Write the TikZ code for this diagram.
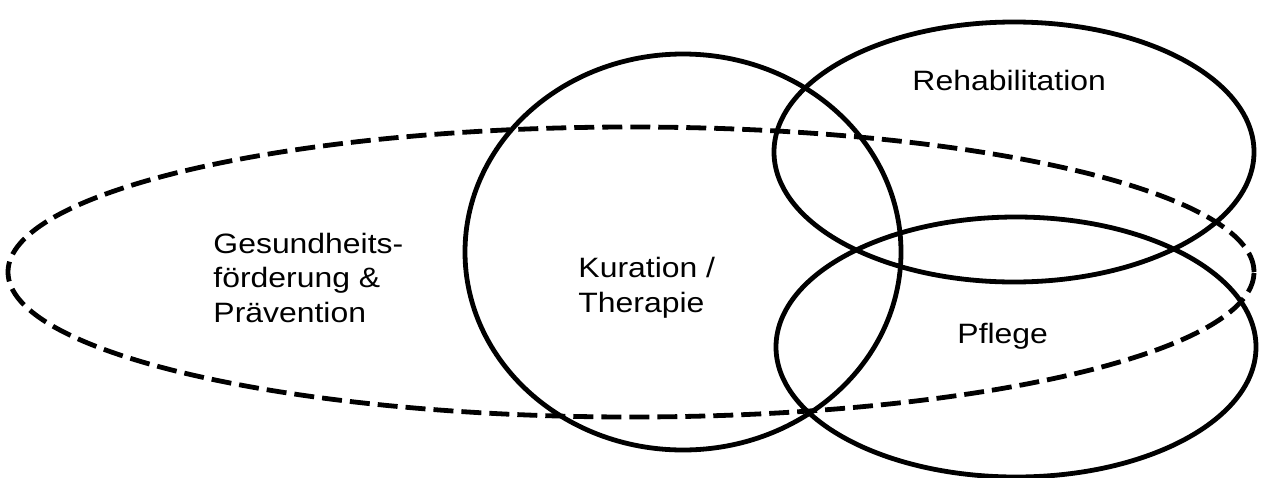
\documentclass[tikz,border=0pt]{standalone}
\usepackage{fontspec}
\setmainfont{Liberation Sans}
\usepackage{tikz}
\usetikzlibrary{positioning}

\begin{document}
\begin{tikzpicture}[
  x=0.5pt, y=-0.5pt,
  area/.style={draw, line width=2.4pt},
  outer/.style={area, dash pattern=on 10pt off 4pt},
  txt/.style={font=\fontsize{14}{17.25}\selectfont, inner sep=0pt,
    xscale=1.14, align=left, anchor=base west}]
  \useasboundingbox (0,0) rectangle (1268,477);
  \draw[outer] (631,272) ellipse [x radius=311.5pt, y radius=72.5pt];
  \draw[area] (683,252) ellipse [x radius=109pt, y radius=99pt];
  \draw[area] (1014,152) ellipse [x radius=120pt, y radius=65pt];
  \draw[area] (1016,347) ellipse [x radius=120pt, y radius=65pt];
  \node[txt] (gf) at (213,322) {Gesundheits-\\förderung \&\\Prävention};
  \node[txt] (kt) at (578,312) {Kuration /\\Therapie};
  \node[txt] (rh) at (912,90) {Rehabilitation};
  \node[txt] (pf) at (957,343) {Pflege};
\end{tikzpicture}
\end{document}
